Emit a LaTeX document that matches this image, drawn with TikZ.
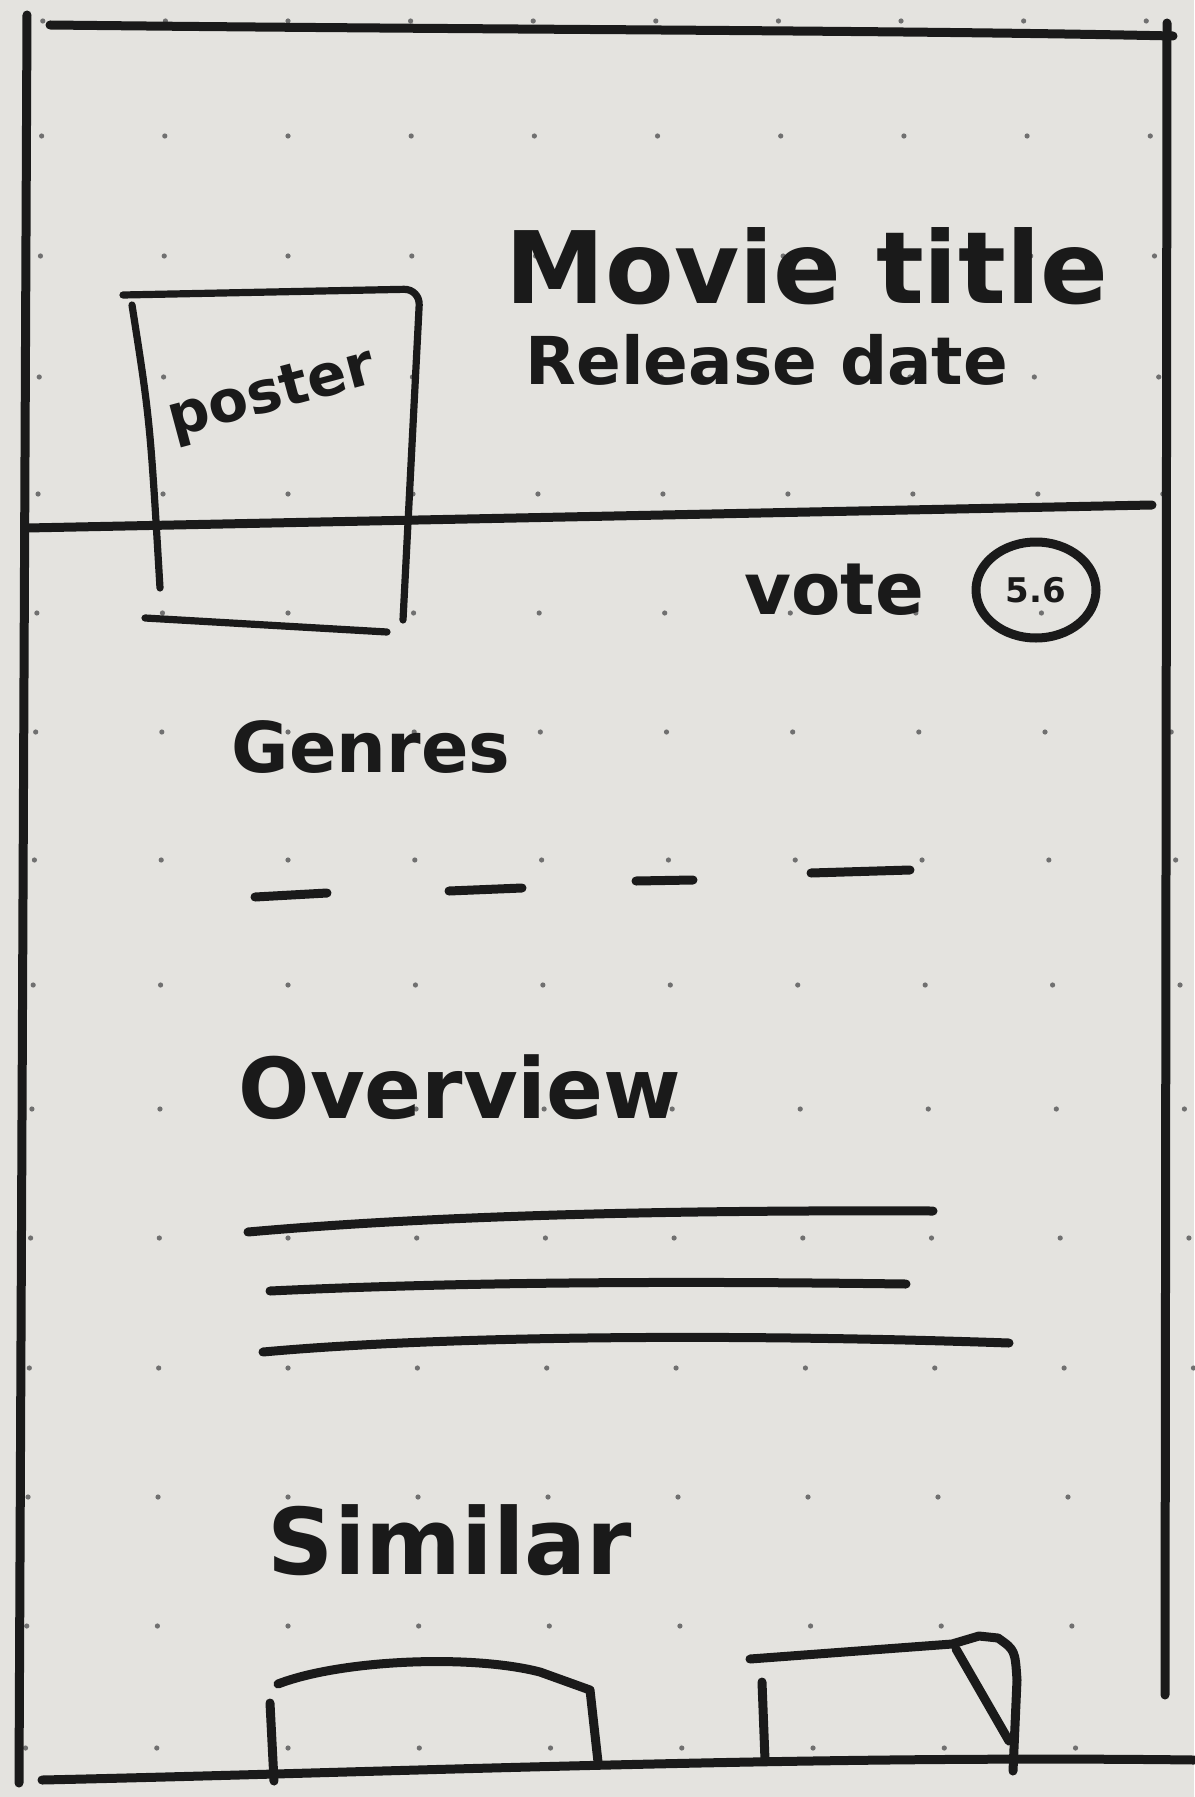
\documentclass[tikz,border=0pt]{standalone}
\usepackage{fontspec}
\setmainfont{DejaVu Sans}
\usetikzlibrary{shapes.geometric, positioning}
\definecolor{paper}{RGB}{228,227,223}
\definecolor{ink}{RGB}{26,26,26}
\definecolor{dotgray}{RGB}{112,112,112}

\begin{document}
\begin{tikzpicture}[x=0.5pt, y=-0.5pt, line cap=round, line join=round]
    % Styles
    \tikzstyle{pen} = [draw=ink, line width=4.5pt]
    \tikzstyle{thinpen} = [draw=ink, line width=3.6pt]
    \tikzstyle{label} = [text=ink, inner sep=0pt]
    \tikzstyle{dot} = [fill=dotgray]

    % Paper with dot grid
    \useasboundingbox (0,0) rectangle (1194,1797);
    \fill[paper] (0,0) rectangle (1194,1797);
    \foreach \y in {21,136,256,377,494,613,732,860,985,1109,1238,1368,1497,1626,1748} {
        \foreach \i in {0,...,9} {
            \fill[dot] ({43-0.01*\y+\i*(122.5+0.005*\y)},\y) circle (1.3pt);
        }
    }

    % Phone frame
    \draw[pen] (27,15) -- (19,1783);
    \draw[pen] (50,25) .. controls (500,30) and (900,30) .. (1173,36);
    \draw[pen] (1167,23) -- (1165,1695);
    \draw[pen] (42,1780) .. controls (400,1772) and (800,1755) .. (1194,1760);
    \draw[pen] (27,528) -- (1152,505);

    % Poster box
    \draw[thinpen] (132,305) .. controls (150,420) .. (160,588);
    \draw[thinpen, rounded corners=8pt] (123,295) -- (420,289) -- (403,620);
    \draw[thinpen] (145,618) -- (387,632);
    \node[label, rotate=15, font=\bfseries\fontsize{29}{32}\selectfont] (posterlbl) at (272,396) {poster};

    % Header texts
    \node[label, font=\bfseries\fontsize{50}{56}\selectfont] (title) at (807,266) {Movie title};
    \node[label, font=\bfseries\fontsize{33}{38}\selectfont] (reldate) at (767,360) {Release date};

    % Vote
    \node[label, font=\bfseries\fontsize{36}{40}\selectfont] (votelbl) at (834,590) {vote};
    \node[ellipse, draw=ink, line width=4.5pt, minimum width=60pt, minimum height=48pt,
        text=ink, font=\bfseries\fontsize{17}{20}\selectfont] (score) at (1036,590) {5.6};

    % Genres
    \node[label, font=\bfseries\fontsize{35}{40}\selectfont] (genres) at (371,747) {Genres};
    \draw[pen] (255,897) -- (327,893);
    \draw[pen] (449,891) -- (522,888);
    \draw[pen] (636,881) -- (693,880);
    \draw[pen] (811,873) -- (910,870);

    % Overview
    \node[label, font=\bfseries\fontsize{42}{48}\selectfont] (overview) at (460,1087) {Overview};
    \draw[pen] (248,1232) .. controls (450,1214) and (700,1210) .. (933,1211);
    \draw[pen] (270,1291) .. controls (500,1280) and (750,1282) .. (906,1284);
    \draw[pen] (263,1352) .. controls (450,1335) and (750,1334) .. (1009,1343);

    % Similar
    \node[label, font=\bfseries\fontsize{46}{52}\selectfont] (similar) at (450,1540) {Similar};
    \draw[pen] (274,1781) -- (270,1703);
    \draw[pen] (278,1684) .. controls (340,1660) and (470,1654) .. (540,1672) -- (590,1690) -- (598,1762);
    \draw[pen] (765,1760) -- (762,1682);
    \draw[pen] (750,1659) -- (952,1644) -- (979,1636) -- (998,1638) .. controls (1015,1650) .. (1017,1680) -- (1013,1771);
    \draw[pen] (956,1649) -- (1009,1741);
\end{tikzpicture}
\end{document}
